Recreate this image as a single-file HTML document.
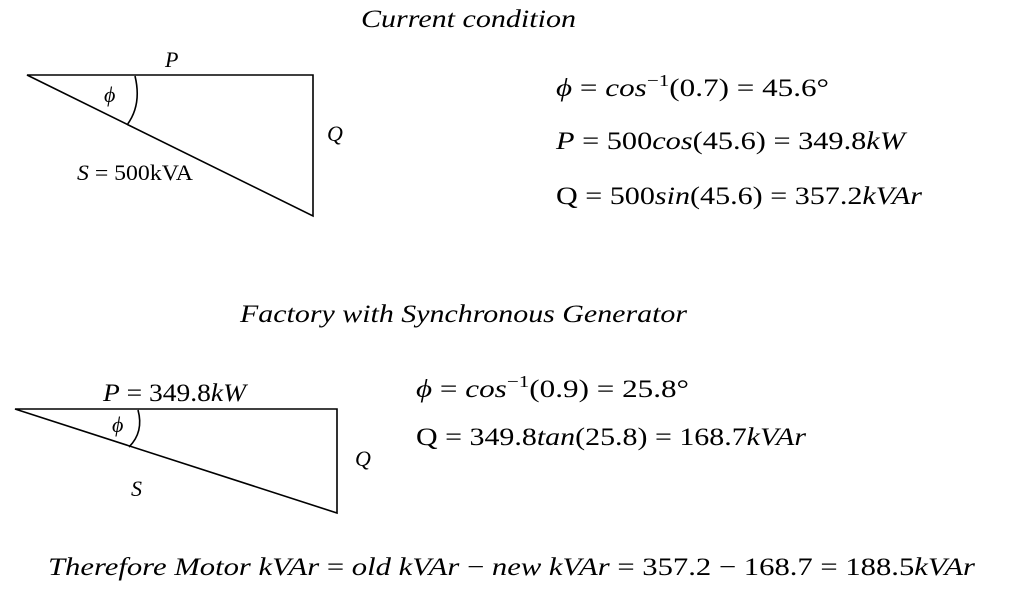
<!DOCTYPE html>
<html><head><meta charset="utf-8"><style>
html,body{margin:0;padding:0;background:#fff;}
svg{display:block;}
text{font-family:"Liberation Serif","DejaVu Serif",serif;font-size:25px;fill:#000;}
.s{font-size:22px;}
.i{font-style:italic;}
</style></head><body>
<svg width="1024" height="590" viewBox="0 0 1024 590" xmlns="http://www.w3.org/2000/svg">
<g stroke="#000" stroke-width="1.6" fill="none">
<path d="M27 75 L313 75 L313 216 Z"/>
<path d="M135 76 Q142 105 127 125"/>
<path d="M15 409 L337 409 L337 513 Z"/>
<path d="M138 410 Q144 432 129 447"/>
</g>
<text class="i" x="361" y="27" textLength="215" lengthAdjust="spacingAndGlyphs">Current condition</text>
<text class="i s" x="165" y="67">P</text>
<text class="i s" x="104" y="102">ϕ</text>
<text class="i s" x="327" y="141">Q</text>
<text class="s" x="77" y="180" textLength="116" lengthAdjust="spacingAndGlyphs"><tspan class="i">S</tspan> = 500kVA</text>
<text x="556" y="96" textLength="273" lengthAdjust="spacingAndGlyphs"><tspan class="i">ϕ</tspan> = <tspan class="i">cos</tspan><tspan dy="-10" font-size="17">−1</tspan><tspan dy="10">(0.7) = 45.6°</tspan></text>
<text x="556" y="149" textLength="349" lengthAdjust="spacingAndGlyphs"><tspan class="i">P</tspan> = 500<tspan class="i">cos</tspan>(45.6) = 349.8<tspan class="i">kW</tspan></text>
<text x="556" y="204" textLength="366" lengthAdjust="spacingAndGlyphs">Q = 500<tspan class="i">sin</tspan>(45.6) = 357.2<tspan class="i">kVAr</tspan></text>
<text class="i" x="240" y="322" textLength="447" lengthAdjust="spacingAndGlyphs">Factory with Synchronous Generator</text>
<text x="103" y="401" textLength="143" lengthAdjust="spacingAndGlyphs"><tspan class="i">P</tspan> = 349.8<tspan class="i">kW</tspan></text>
<text class="i s" x="112" y="432">ϕ</text>
<text class="i s" x="355" y="466">Q</text>
<text class="i s" x="131" y="496">S</text>
<text x="416" y="397" textLength="273" lengthAdjust="spacingAndGlyphs"><tspan class="i">ϕ</tspan> = <tspan class="i">cos</tspan><tspan dy="-10" font-size="17">−1</tspan><tspan dy="10">(0.9) = 25.8°</tspan></text>
<text x="416" y="445" textLength="390" lengthAdjust="spacingAndGlyphs">Q = 349.8<tspan class="i">tan</tspan>(25.8) = 168.7<tspan class="i">kVAr</tspan></text>
<text x="48" y="575" textLength="927" lengthAdjust="spacingAndGlyphs"><tspan class="i">Therefore Motor kVAr</tspan> = <tspan class="i">old kVAr</tspan> − <tspan class="i">new kVAr</tspan> = 357.2 − 168.7 = 188.5<tspan class="i">kVAr</tspan></text>
</svg>
</body></html>
